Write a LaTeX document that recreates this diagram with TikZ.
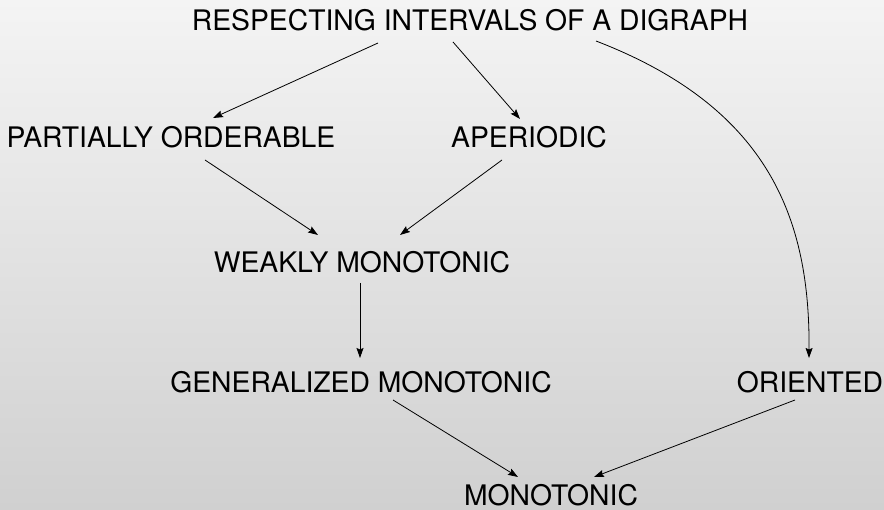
\documentclass[tikz,border=0pt]{standalone}
\usepackage{fontspec}
\setmainfont{TeX Gyre Heros}
\usetikzlibrary{arrows.meta,calc}
\definecolor{bgtop}{HTML}{F4F4F4}
\definecolor{bgbot}{HTML}{D0D0D0}
\tikzset{
  lbl/.style={anchor=base, inner sep=0pt, font=\fontsize{28.3}{34}\selectfont},
  link/.style={line width=0.8pt, -{Stealth[length=10pt,width=7pt,inset=1.5pt]}}
}
\begin{document}
\begin{tikzpicture}[x=1pt,y=-1pt]
  % background panel with vertical shading
  \shade[top color=bgtop, bottom color=bgbot] (0,0) rectangle (884,510);
  \useasboundingbox (0,0) rectangle (884,510);

  % labels (placed by baseline)
  \node[lbl] (resp)   at (470,31)  {RESPECTING INTERVALS OF A DIGRAPH};
  \node[lbl] (part)   at (171,148) {PARTIALLY ORDERABLE};
  \node[lbl] (aper)   at (529,148) {APERIODIC};
  \node[lbl] (weak)   at (362,273) {WEAKLY MONOTONIC};
  \node[lbl] (gen)    at (361,393) {GENERALIZED MONOTONIC};
  \node[lbl] (orient) at (810,393) {ORIENTED};
  \node[lbl] (mono)   at (551,506) {MONOTONIC};

  % implications
  \draw[link] ($(resp.base)+(-92,12)$) -- ($(part.base)+(42,-30)$);
  \draw[link] ($(resp.base)+(-17,11)$) -- ($(aper.base)+(-9,-29)$);
  \draw[link] ($(resp.base)+(126,10)$) .. controls (770,108) and (810,220) .. ($(orient.base)+(-1,-35)$);
  \draw[link] ($(part.base)+(34,12)$) -- ($(weak.base)+(-44,-38)$);
  \draw[link] ($(aper.base)+(-27,12)$) -- ($(weak.base)+(38,-38)$);
  \draw[link] ($(weak.base)+(-2,10)$) -- ($(gen.base)+(-1,-35)$);
  \draw[link] ($(gen.base)+(32,7)$) -- ($(mono.base)+(-33,-29)$);
  \draw[link] ($(orient.base)+(-15,7)$) -- ($(mono.base)+(43,-29)$);
\end{tikzpicture}
\end{document}
